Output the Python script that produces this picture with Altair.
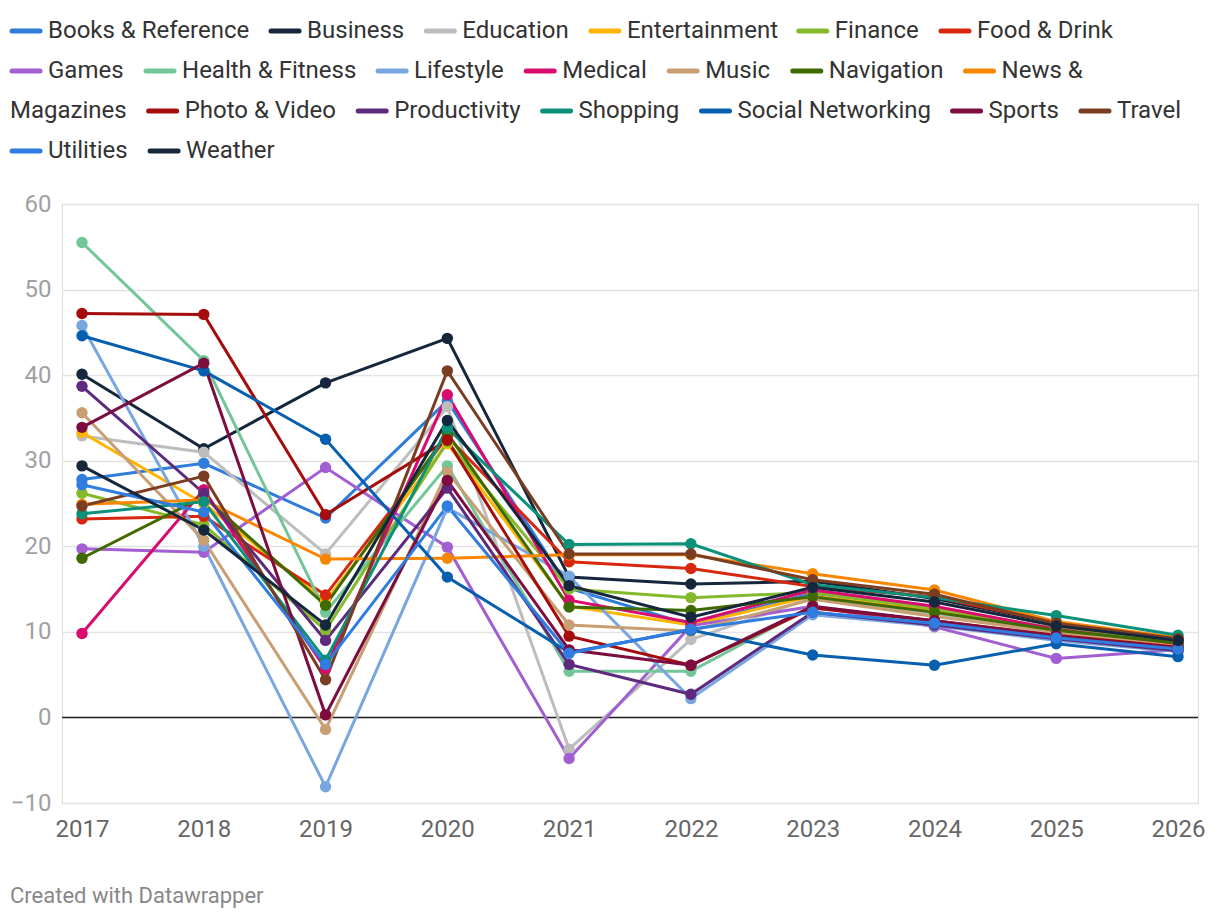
import altair as alt
import pandas as pd

years = ["2017", "2018", "2019", "2020", "2021", "2022", "2023", "2024", "2025", "2026"]

categories = [
    "Books & Reference", "Business", "Education", "Entertainment", "Finance", "Food & Drink",
    "Games", "Health & Fitness", "Lifestyle", "Medical", "Music", "Navigation",
    "News & Magazines", "Photo & Video", "Productivity", "Shopping", "Social Networking",
    "Sports", "Travel", "Utilities", "Weather",
]

colors = [
    "#2f7ddb", "#15263d", "#bdbdbd", "#ffb400", "#84b92b", "#d7280f",
    "#a15fd1", "#73c697", "#78a6e0", "#d80c6e", "#c79f72", "#3f6a00",
    "#f98600", "#a50c0c", "#5e2a7e", "#0b9179", "#075faf",
    "#7d0d3f", "#7b3d22", "#2f7de0", "#15263d",
]

books_reference   = [27.8, 29.7, 23.3, 37.0, 15.1, 10.8, 14.5, 12.8, 10.2, 8.6]
business          = [40.1, 31.4, 39.1, 44.3, 16.4, 15.6, 15.9, 13.9, 11.0, 9.1]
education         = [32.9, 31.0, 19.1, 36.3, -3.7, 9.1, 14.0, 12.0, 9.8, 8.2]
entertainment     = [33.3, 25.0, 13.6, 32.0, 13.0, 10.8, 14.2, 12.5, 10.3, 8.6]
finance           = [26.2, 22.5, 10.2, 32.2, 15.0, 14.0, 14.6, 12.7, 10.4, 8.8]
food_drink        = [23.2, 23.5, 14.3, 32.8, 18.2, 17.4, 15.3, 14.1, 11.1, 9.2]
games             = [19.7, 19.3, 29.2, 19.9, -4.8, 10.7, 13.0, 10.6, 6.9, 7.9]
health_fitness    = [55.5, 41.7, 12.3, 29.4, 5.4, 5.4, 13.0, 11.2, 9.5, 8.1]
lifestyle         = [45.8, 20.0, -8.1, 24.5, 16.5, 2.2, 12.0, 10.7, 9.0, 7.7]
medical           = [9.8, 26.6, 5.7, 37.7, 13.7, 11.1, 14.9, 13.0, 10.3, 8.5]
music             = [35.6, 20.7, -1.4, 28.7, 10.8, 10.1, 13.8, 11.8, 10.0, 8.3]
navigation        = [18.6, 25.8, 13.1, 33.2, 12.9, 12.5, 14.1, 12.3, 10.2, 8.7]
news_magazines    = [24.9, 25.4, 18.5, 18.6, 19.0, 19.0, 16.8, 14.9, 11.2, 9.3]
photo_video       = [47.2, 47.1, 23.7, 32.4, 9.5, 6.1, 12.8, 11.3, 9.6, 8.2]
productivity      = [38.7, 26.2, 9.0, 26.8, 6.2, 2.7, 12.3, 10.8, 9.2, 7.8]
shopping          = [23.8, 25.2, 6.7, 33.8, 20.2, 20.3, 15.5, 14.0, 11.9, 9.6]
social_networking = [44.6, 40.5, 32.5, 16.4, 7.6, 10.2, 7.3, 6.1, 8.6, 7.1]
sports            = [33.9, 41.4, 0.3, 27.7, 7.9, 6.1, 13.0, 11.3, 9.5, 8.1]
travel            = [24.7, 28.2, 4.4, 40.5, 19.1, 19.1, 16.1, 14.4, 11.0, 9.2]
utilities         = [27.2, 24.0, 6.2, 24.7, 7.5, 10.3, 12.3, 11.0, 9.3, 8.0]
weather           = [29.4, 21.9, 10.8, 34.7, 15.4, 11.7, 15.2, 13.5, 10.7, 9.0]

series_values = [
    books_reference, business, education, entertainment, finance, food_drink,
    games, health_fitness, lifestyle, medical, music, navigation,
    news_magazines, photo_video, productivity, shopping, social_networking,
    sports, travel, utilities, weather,
]

y_ticks = [-10, 0, 10, 20, 30, 40, 50, 60]
credit = "Created with Datawrapper"

# ---------------------------------------------------------------- data table
rows = []
for cat, vals in zip(categories, series_values):
    for yr, v in zip(years, vals):
        rows.append({"year": yr, "category": cat, "value": v})
df = pd.DataFrame(rows)

FONT = "Roboto"
LEGEND_FS = 24

# ---------------------------------------------------------------- flowing legend layout
# approximate Roboto Regular advance widths (units per 2048 em)
ADV = {
    " ": 498, "&": 1260,
    "A": 1336, "B": 1275, "C": 1333, "D": 1343, "E": 1164, "F": 1132, "G": 1395, "H": 1460,
    "I": 557, "J": 1130, "K": 1284, "L": 1103, "M": 1788, "N": 1460, "O": 1408, "P": 1292,
    "Q": 1408, "R": 1261, "S": 1233, "T": 1236, "U": 1328, "V": 1303, "W": 1817, "X": 1284,
    "Y": 1230, "Z": 1226,
    "a": 1088, "b": 1122, "c": 1046, "d": 1126, "e": 1058, "f": 693, "g": 1120, "h": 1101,
    "i": 486, "j": 477, "k": 1014, "l": 486, "m": 1753, "n": 1103, "o": 1140, "p": 1122,
    "q": 1133, "r": 678, "s": 1031, "t": 653, "u": 1100, "v": 967, "w": 1502, "x": 990,
    "y": 945, "z": 990,
}


def text_width(s, size=LEGEND_FS):
    return sum(ADV.get(ch, 1100) for ch in s) * size / 2048 * 1.012


PLOT_LEFT, PLOT_TOP = 62, 204          # page position of the plot origin
LEG_LEFT, LEG_RIGHT = 10, 1192         # legend container (page px)
SYM_W, SYM_GAP, ITEM_GAP = 32, 6, 21
ROW0, ROW_H = 30, 40

leg_sym, leg_txt = [], []
cx, row = LEG_LEFT, 0


def place_symbol(cat, x, r):
    leg_sym.append({"category": cat, "x1": x + 2 - PLOT_LEFT, "x2": x + SYM_W - 2 - PLOT_LEFT,
                    "y": ROW0 + ROW_H * r + 1 - PLOT_TOP})


def place_text(txt, x, r):
    leg_txt.append({"label": txt, "x": x - PLOT_LEFT, "y": ROW0 + ROW_H * r + 1 - PLOT_TOP})


for cat in categories:
    need = SYM_W + SYM_GAP + text_width(cat)
    if cx + need <= LEG_RIGHT:
        place_symbol(cat, cx, row)
        place_text(cat, cx + SYM_W + SYM_GAP, row)
        cx += need + ITEM_GAP
        continue
    words = cat.split(" ")
    k = 0
    for j in range(len(words) - 1, 0, -1):
        if cx + SYM_W + SYM_GAP + text_width(" ".join(words[:j])) <= LEG_RIGHT:
            k = j
            break
    if k > 0:
        place_symbol(cat, cx, row)
        place_text(" ".join(words[:k]), cx + SYM_W + SYM_GAP, row)
        row += 1
        rest = " ".join(words[k:])
        place_text(rest, LEG_LEFT, row)
        cx = LEG_LEFT + text_width(rest) + ITEM_GAP
    else:
        row += 1
        cx = LEG_LEFT
        place_symbol(cat, cx, row)
        place_text(cat, cx + SYM_W + SYM_GAP, row)
        cx += need + ITEM_GAP

leg_sym_df = pd.DataFrame(leg_sym)
leg_txt_df = pd.DataFrame(leg_txt)

# ---------------------------------------------------------------- encodings
x_enc = alt.X(
    "year:O",
    sort=years,
    scale=alt.Scale(type="point", padding=0.1642),
    axis=alt.Axis(
        title=None, labelAngle=0, domain=False, ticks=False, grid=False,
        labelFontSize=24, labelColor="#666666", labelFont=FONT, labelPadding=14,
    ),
)
y_enc = alt.Y(
    "value:Q",
    scale=alt.Scale(domain=[-10, 60], nice=False, zero=False),
    axis=alt.Axis(
        title=None, values=y_ticks, domain=False, ticks=False, grid=True,
        gridColor="#e3e3e3", gridWidth=1.5, labelFontSize=24, labelColor="#a0a0a0",
        labelFont=FONT, labelPadding=11,
    ),
)
color_scale = alt.Scale(domain=categories, range=colors)

base = alt.Chart(df)

zero = alt.Chart(pd.DataFrame({"v": [0]})).mark_rule(color="#222222", strokeWidth=1.5).encode(
    y=alt.Y("v:Q")
)

lines = base.mark_line(strokeWidth=3).encode(
    x=x_enc, y=y_enc,
    color=alt.Color("category:N", scale=color_scale, legend=None),
    order=alt.Order("year:O"),
)

points = base.mark_point(filled=True, size=130, opacity=1).encode(
    x=x_enc, y=y_enc,
    color=alt.Color("category:N", scale=color_scale, legend=None),
)

legend_symbols = alt.Chart(leg_sym_df).mark_rule(strokeWidth=5, strokeCap="round").encode(
    x=alt.X("x1:Q", scale=None, axis=None),
    x2="x2:Q",
    y=alt.Y("y:Q", scale=None, axis=None),
    color=alt.Color("category:N", scale=color_scale, legend=None),
)

legend_labels = alt.Chart(leg_txt_df).mark_text(
    align="left", baseline="middle", fontSize=LEGEND_FS, color="#333333", font=FONT
).encode(
    x=alt.X("x:Q", scale=None, axis=None),
    y=alt.Y("y:Q", scale=None, axis=None),
    text="label:N",
)

credit_text = alt.Chart(pd.DataFrame({"t": [credit]})).mark_text(
    align="left", baseline="middle", fontSize=22, color="#888888", font=FONT
).encode(x=alt.value(-52), y=alt.value(692), text="t:N")

chart = alt.layer(zero, lines, points, legend_symbols, legend_labels, credit_text).properties(
    width=1136, height=599,
    autosize=alt.AutoSizeParams(type="none"),
    padding={"left": 54, "top": 196, "right": 14, "bottom": 109},
).configure_view(stroke=None).configure(font=FONT)

chart.save("out.html", embed_options={"renderer": "svg", "actions": False})
